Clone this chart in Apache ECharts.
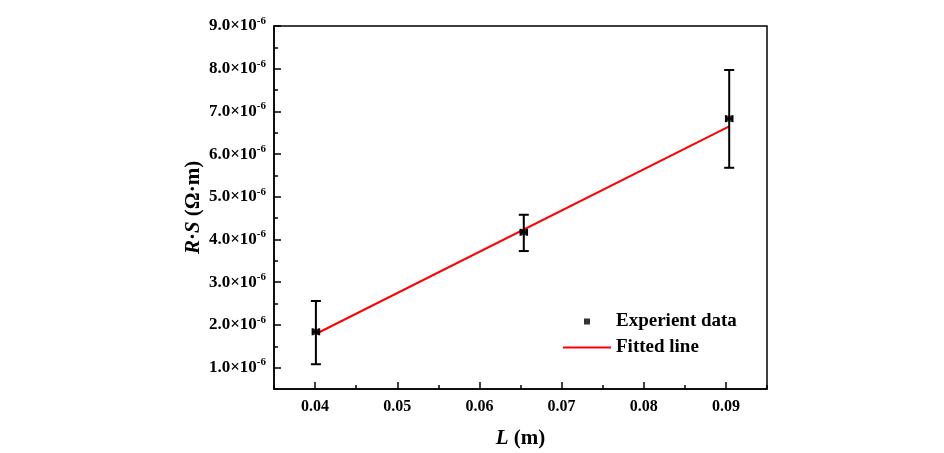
<!DOCTYPE html>
<html>
<head>
<meta charset="utf-8">
<script src="https://cdn.jsdelivr.net/npm/echarts@6/dist/echarts.min.js"></script>
<style>
  html,body{margin:0;padding:0;background:#fff;}
  #chart{width:944px;height:453px;}
</style>
</head>
<body>
<div id="chart"></div>
<script>
// L in m, R·S in units of 1e-6 Ω·m
var lengths = [0.0401, 0.0654, 0.0904];
var rsValues = [1.84, 4.17, 6.83];
var rsLow = [1.08, 3.73, 5.68];
var rsHigh = [2.56, 4.58, 7.97];
var lengthErr = [0.0004, 0.0004, 0.0004];
var fitX = [0.0402, 0.0904];
var fitY = [1.80, 6.65];

var FONT = '"Liberation Serif", "Times New Roman", serif';

var pointData = [], errData = [], fitData = [];
for (var i = 0; i < lengths.length; i++) {
    pointData.push([lengths[i], rsValues[i]]);
    errData.push([lengths[i], rsValues[i], rsLow[i], rsHigh[i], lengthErr[i]]);
}
for (var j = 0; j < fitX.length; j++) {
    fitData.push([fitX[j], fitY[j]]);
}

function seg(x1, y1, x2, y2) {
    return {
        type: 'line',
        shape: {x1: x1, y1: y1, x2: x2, y2: y2},
        style: {stroke: '#000', lineWidth: 2}
    };
}

function renderErr(params, api) {
    var x = api.value(0), y = api.value(1);
    var lo = api.coord([x, api.value(2)]);
    var hi = api.coord([x, api.value(3)]);
    var xl = api.coord([x - api.value(4), y]);
    var xr = api.coord([x + api.value(4), y]);
    var cap = 5, xcap = 3.5;
    return {
        type: 'group',
        children: [
            seg(lo[0], lo[1], hi[0], hi[1]),
            seg(lo[0] - cap, lo[1], lo[0] + cap, lo[1]),
            seg(hi[0] - cap, hi[1], hi[0] + cap, hi[1]),
            seg(xl[0], xl[1], xr[0], xr[1]),
            seg(xl[0], xl[1] - xcap, xl[0], xl[1] + xcap),
            seg(xr[0], xr[1] - xcap, xr[0], xr[1] + xcap)
        ]
    };
}

var chart = echarts.init(document.getElementById('chart'));

var tickStyle = {color: '#000', width: 1.5};

chart.setOption({
    animation: false,
    backgroundColor: '#fff',
    grid: {
        left: 274, top: 26, right: 177, bottom: 64,
        outerBoundsMode: 'none', containLabel: false,
        show: true, borderColor: '#000', borderWidth: 1.5
    },
    legend: [{
        data: ['Experient data'],
        left: 584, top: 312, padding: 0,
        itemWidth: 6, itemHeight: 6, icon: 'rect',
        textStyle: {fontFamily: FONT, fontWeight: 'bold', fontSize: 19, color: '#000', padding: [0, 0, 0, 21]}
    }, {
        data: ['Fitted line'],
        left: 563, top: 338, padding: 0,
        itemWidth: 48, itemHeight: 2, icon: 'rect',
        textStyle: {fontFamily: FONT, fontWeight: 'bold', fontSize: 19, color: '#000'}
    }],
    xAxis: [{
        // minor ticks
        type: 'value', position: 'bottom', min: 0.035, max: 0.095, interval: 0.005,
        axisLine: {show: false},
        axisTick: {show: true, inside: true, length: 4, lineStyle: tickStyle},
        axisLabel: {show: false},
        splitLine: {show: false}
    }, {
        type: 'value', position: 'bottom', min: 0.035, max: 0.095, splitNumber: 6,
        axisLine: {show: true, onZero: false, lineStyle: {color: '#000', width: 1.5}},
        axisTick: {show: true, inside: true, length: 7, lineStyle: tickStyle},
        axisLabel: {
            showMinLabel: false, showMaxLabel: false, margin: 10,
            fontFamily: FONT, fontWeight: 'bold', fontSize: 16, color: '#000',
            formatter: function (v) { return v.toFixed(2); }
        },
        splitLine: {show: false},
        name: '{i|L} (m)',
        nameLocation: 'middle', nameGap: 39, nameMoveOverlap: false,
        nameTextStyle: {
            fontFamily: FONT, fontWeight: 'bold', fontSize: 21, color: '#000',
            rich: {i: {fontFamily: FONT, fontWeight: 'bold', fontStyle: 'italic', fontSize: 21, color: '#000'}}
        }
    }],
    yAxis: [{
        type: 'value', position: 'left', min: 0.5, max: 9, interval: 0.5,
        axisLine: {show: false},
        axisTick: {show: true, inside: true, length: 4, lineStyle: tickStyle},
        axisLabel: {show: false},
        splitLine: {show: false}
    }, {
        type: 'value', position: 'left', min: 0.5, max: 9, splitNumber: 8,
        axisLine: {show: true, onZero: false, lineStyle: {color: '#000', width: 1.5}},
        axisTick: {show: true, inside: true, length: 7, lineStyle: tickStyle},
        axisLabel: {
            showMinLabel: false, margin: 8,
            fontFamily: FONT, fontWeight: 'bold', fontSize: 17, color: '#000',
            formatter: function (v) { return '{a|' + v.toFixed(1) + '×10}{s|-6}'; },
            rich: {
                a: {fontFamily: FONT, fontWeight: 'bold', fontSize: 17, color: '#000'},
                s: {fontFamily: FONT, fontWeight: 'bold', fontSize: 11, color: '#000', padding: [0, 0, 10, 0]}
            }
        },
        splitLine: {show: false},
        name: '{i|R}·{i|S} (Ω·m)',
        nameLocation: 'middle', nameGap: 70, nameMoveOverlap: false,
        nameTextStyle: {
            fontFamily: FONT, fontWeight: 'bold', fontSize: 21, color: '#000',
            rich: {i: {fontFamily: FONT, fontWeight: 'bold', fontStyle: 'italic', fontSize: 21, color: '#000'}}
        }
    }],
    series: [{
        name: 'Fitted line',
        type: 'line',
        data: fitData,
        showSymbol: false, symbol: 'none',
        itemStyle: {color: '#ff0000'},
        lineStyle: {color: '#ff0000', width: 2},
        z: 2
    }, {
        name: 'error',
        type: 'custom',
        data: errData,
        renderItem: renderErr,
        z: 3
    }, {
        name: 'Experient data',
        type: 'scatter',
        data: pointData,
        symbol: 'rect', symbolSize: 6,
        itemStyle: {color: '#000'},
        z: 4
    }]
});
</script>
</body>
</html>
